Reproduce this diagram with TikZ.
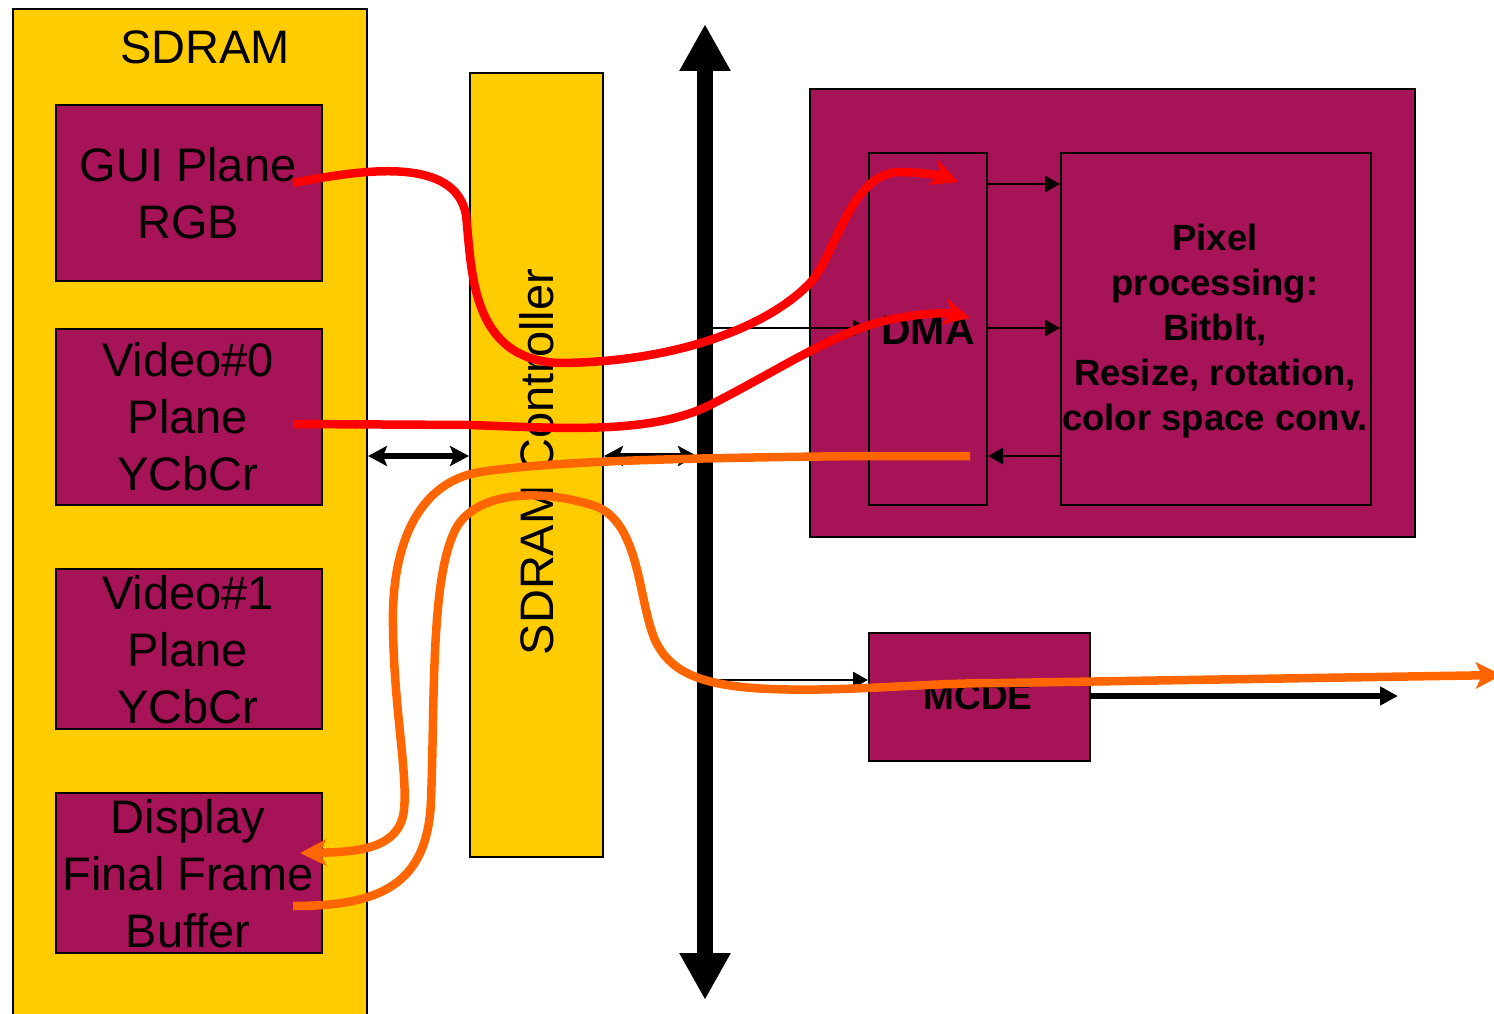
\documentclass[tikz,border=0pt]{standalone}
\usepackage{fontspec}
\setmainfont{Liberation Sans}
\usetikzlibrary{arrows.meta,calc}
\definecolor{sdyel}{RGB}{255,204,0}
\definecolor{sdpur}{RGB}{166,19,86}
\definecolor{sdred}{RGB}{255,0,0}
\definecolor{sdora}{RGB}{255,102,0}
\begin{document}
\begin{tikzpicture}[x=1pt,y=-1pt,
  yelbox/.style={draw=black,line width=2pt,fill=sdyel,inner sep=0pt,anchor=north west},
  purbox/.style={draw=black,line width=2pt,fill=sdpur,inner sep=0pt,anchor=north west},
  biglbl/.style={font=\fontsize{47}{57}\selectfont,align=center,inner sep=0pt},
  boldlbl/.style={font=\fontsize{36.5}{45}\selectfont\bfseries,align=center,inner sep=0pt},
  thinarr/.style={line width=2.7pt,-{Triangle[length=15pt,width=16pt]}},
  dblarr/.style={line width=6pt,{Stealth[length=19pt,width=20pt,inset=4pt]}-{Stealth[length=19pt,width=20pt,inset=4pt]}},
  busarr/.style={line width=16pt,{Triangle[length=47pt,width=48pt]}-{Triangle[length=47pt,width=48pt]}},
  outarr/.style={line width=6pt,-{Triangle[length=18pt,width=18pt]}},
  flowred/.style={line width=8.5pt,draw=sdred,-{Stealth[length=26pt,width=26pt,inset=6pt]}},
  flowora/.style={line width=8.5pt,draw=sdora,-{Stealth[length=26pt,width=26pt,inset=6pt]}},
]
\useasboundingbox (0,0) rectangle (1494,1014);
\clip (0,0) rectangle (1494,1014);

% SDRAM memory
\node[yelbox,minimum width=354pt,minimum height=1030pt] (sdram) at (12,8) {};
\node[biglbl] (sdramlbl) at (205,47) {SDRAM};
\node[purbox,minimum width=266pt,minimum height=176pt] (gui) at (55,104) {};
\node[purbox,minimum width=266pt,minimum height=176pt] (vid0) at (55,328) {};
\node[purbox,minimum width=266pt,minimum height=160pt] (vid1) at (55,568) {};
\node[purbox,minimum width=266pt,minimum height=160pt] (disp) at (55,792) {};
\node[biglbl] (guilbl) at (188,193) {GUI Plane\\RGB};
\node[biglbl] (vid0lbl) at (188,417) {Video\#0\\Plane\\YCbCr};
\node[biglbl] (vid1lbl) at (188,650) {Video\#1\\Plane\\YCbCr};
\node[biglbl] (displbl) at (188,874) {Display\\Final Frame\\Buffer};

% controller
\node[yelbox,minimum width=133pt,minimum height=784pt] (ctrl) at (469,72) {};
\node[biglbl,rotate=90] (ctrllbl) at (537,462) {SDRAM Controller};

% processing block
\node[purbox,minimum width=605pt,minimum height=448pt] (big) at (809,88) {};
\node[purbox,minimum width=118pt,minimum height=352pt] (dma) at (868,152) {};
\node[purbox,minimum width=310pt,minimum height=352pt] (pix) at (1060,152) {};
\node[font=\fontsize{41}{45}\selectfont\bfseries,inner sep=0pt] (dmalbl) at (928,330) {DMA};
\node[boldlbl] (pixlbl) at (1215,331) {Pixel\\processing:\\Bitblt,\\Resize, rotation,\\color space conv.};

% MCDE
\node[purbox,minimum width=221pt,minimum height=128pt] (mcde) at (868,632) {};
\node[font=\fontsize{37}{45}\selectfont\bfseries,inner sep=0pt] (mcdelbl) at (978,697) {MCDE};

% coordinates
\coordinate (bustop) at (705,24);
\coordinate (busbot) at (705,1000);
\coordinate (y184) at (0,184);
\coordinate (y328) at (0,328);
\coordinate (y456) at (0,456);
\coordinate (y680) at (0,680);
\coordinate (y696) at (0,696);
\coordinate (mcdeout) at (1398,696);

% bus and black connectors
\draw[busarr] (busbot) -- (bustop);
\draw[dblarr] (sdram.east |- y456) -- (ctrl.west |- y456);
\draw[dblarr] (ctrl.east |- y456) -- ($(bustop |- y456)+(-8,0)$);
\draw[thinarr] (bustop |- y328) -- (dma.west |- y328);
\draw[thinarr] (dma.east |- y184) -- (pix.west |- y184);
\draw[thinarr] (dma.east |- y328) -- (pix.west |- y328);
\draw[thinarr] (pix.west |- y456) -- (dma.east |- y456);
\draw[thinarr] (bustop |- y680) -- (mcde.west |- y680);
\draw[outarr] (mcde.east |- y696) -- (mcdeout);

% data flows
\coordinate (r1s) at (293,183);
\coordinate (r1e) at (958,182);
\coordinate (r2s) at (293,424);
\coordinate (r2e) at (970,318);
\coordinate (o1s) at (970,456);
\coordinate (o1e) at (300,853);
\coordinate (o2s) at (293,906);
\coordinate (o2e) at (1502,675);

\draw[flowred] (r1s) .. controls (360,170) and (455,155) .. (466,215)
  .. controls (472,270) and (470,360) .. (560,363)
  .. controls (680,362) and (770,325) .. (810,283)
  .. controls (835,257) and (850,172) .. (900,172)
  .. controls (925,172) and (945,177) .. (r1e);
\draw[flowred] (r2s) -- (470,425)
  .. controls (560,428) and (650,435) .. (710,405)
  .. controls (770,375) and (830,335) .. (880,322)
  .. controls (920,312) and (950,313) .. (r2e);
\draw[flowora] (o1s) -- (860,456)
  .. controls (700,458) and (560,460) .. (480,472)
  .. controls (420,482) and (395,540) .. (393,610)
  .. controls (392,700) and (408,770) .. (404,810)
  .. controls (400,848) and (360,852) .. (o1e);
\draw[flowora] (o2s) .. controls (380,906) and (428,885) .. (431,800)
  .. controls (435,700) and (430,570) .. (458,525)
  .. controls (480,492) and (540,488) .. (595,506)
  .. controls (640,522) and (638,600) .. (655,640)
  .. controls (670,672) and (700,686) .. (770,689)
  .. controls (850,692) and (920,683) .. (1000,683)
  -- (o2e);
\end{tikzpicture}
\end{document}
